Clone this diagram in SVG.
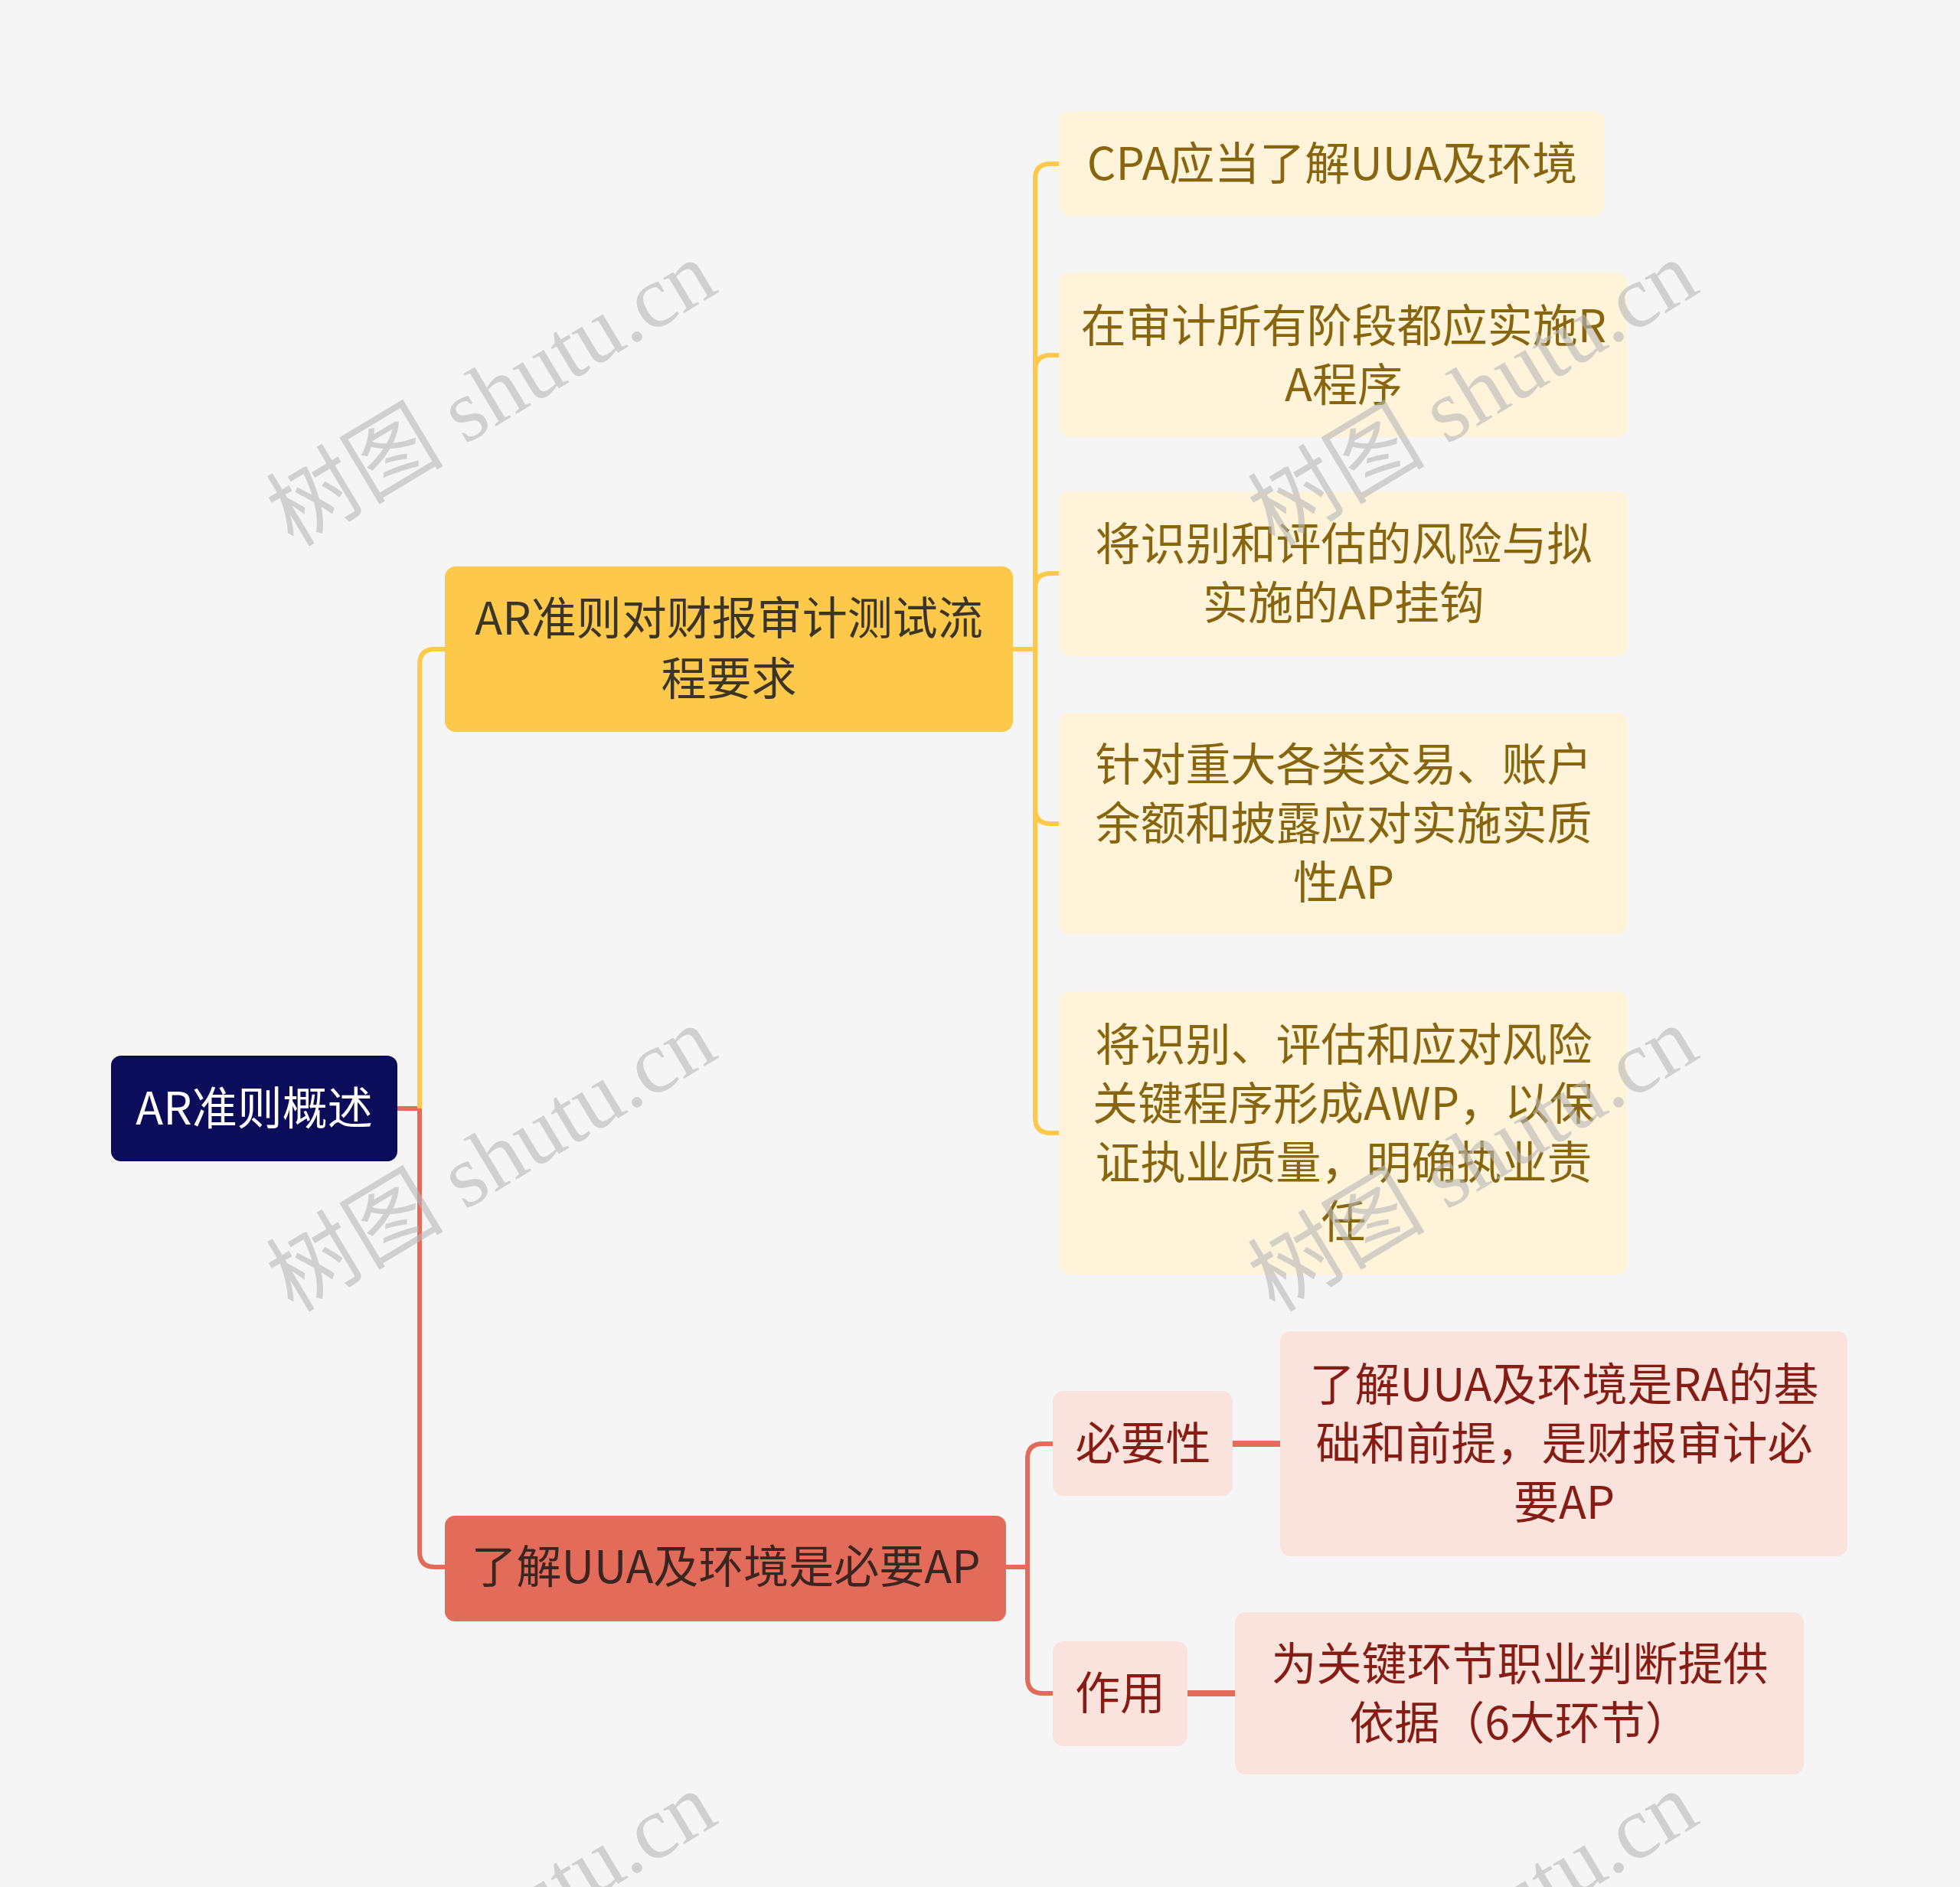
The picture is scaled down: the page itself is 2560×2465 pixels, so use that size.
<svg xmlns="http://www.w3.org/2000/svg" width="2560" height="2465" viewBox="0 0 2560 2465">
<style>
text{font-family:"Noto Sans CJK SC","Noto Sans",sans-serif;font-size:59px;text-anchor:middle}
.root rect{fill:#0b0d5b}
.root text{fill:#ffffff}
.b1 rect{fill:#fec94b}
.b1 text{fill:#3b3526}
.b2 rect{fill:#e26c59}
.b2 text{fill:#3a2521}
.ly rect{fill:#fff3da}
.ly text{fill:#88660f}
.lp rect{fill:#fbe3dd}
.lp text{fill:#861d15}
.cy{fill:none;stroke:#fec94b;stroke-width:6}
.cr{fill:none;stroke:#e26c59;stroke-width:6}
.cr2{fill:none;stroke:#e26c59;stroke-width:8}
.wm text{font-family:"Liberation Serif","Noto Sans CJK SC",serif;font-size:116px;fill:#b8b8b8;opacity:0.6}
</style>
<rect x="0" y="0" width="2560" height="2465" fill="#f5f5f5"/>
<g id="connectors">
<path class="cr" d="M519 1448 H548"/>
<path class="cy" d="M548 1448 V868 Q548 848 568 848 H581"/>
<path class="cr" d="M548 1448 V2027 Q548 2047 568 2047 H581"/>
<path class="cy" d="M1323 848 H1352"/>
<path class="cy" d="M1352 848 V234 Q1352 214 1372 214 H1384"/>
<path class="cy" d="M1352 848 V484 Q1352 464 1372 464 H1384"/>
<path class="cy" d="M1352 848 V769 Q1352 749 1372 749 H1384"/>
<path class="cy" d="M1352 848 V1056 Q1352 1076 1372 1076 H1384"/>
<path class="cy" d="M1352 848 V1460 Q1352 1480 1372 1480 H1384"/>
<path class="cr" d="M1314 2047 H1342"/>
<path class="cr" d="M1342 2047 V1906 Q1342 1886 1362 1886 H1376"/>
<path class="cr" d="M1342 2047 V2192 Q1342 2212 1362 2212 H1376"/>
<path class="cr2" d="M1610 1886 H1673"/>
<path class="cr2" d="M1551 2212 H1614"/>
</g>
<g id="root" class="root">
<rect x="145" y="1379" width="374" height="138" rx="13"/>
<text x="332" y="1469">AR准则概述</text>
</g>
<g id="branch1" class="b1">
<rect x="581" y="740" width="742" height="216" rx="14"/>
<text x="952" y="829">AR准则对财报审计测试流</text>
<text x="952" y="908">程要求</text>
</g>
<g id="leaf1" class="ly">
<rect x="1383" y="145" width="713" height="137" rx="14"/>
<text x="1740" y="235">CPA应当了解UUA及环境</text>
</g>
<g id="leaf2" class="ly">
<rect x="1383" y="356" width="743" height="215" rx="14"/>
<text x="1755" y="447">在审计所有阶段都应实施R</text>
<text x="1755" y="524">A程序</text>
</g>
<g id="leaf3" class="ly">
<rect x="1383" y="642" width="743" height="215" rx="14"/>
<text x="1755" y="732">将识别和评估的风险与拟</text>
<text x="1755" y="809">实施的AP挂钩</text>
</g>
<g id="leaf4" class="ly">
<rect x="1383" y="931" width="743" height="290" rx="14"/>
<text x="1755" y="1020">针对重大各类交易、账户</text>
<text x="1755" y="1097">余额和披露应对实施实质</text>
<text x="1755" y="1174">性AP</text>
</g>
<g id="leaf5" class="ly">
<rect x="1383" y="1295" width="743" height="370" rx="14"/>
<text x="1755" y="1386">将识别、评估和应对风险</text>
<text x="1755" y="1463">关键程序形成AWP，以保</text>
<text x="1755" y="1540">证执业质量，明确执业责</text>
<text x="1755" y="1617">任</text>
</g>
<g id="branch2" class="b2">
<rect x="581" y="1980" width="733" height="138" rx="13"/>
<text x="948" y="2068">了解UUA及环境是必要AP</text>
</g>
<g id="sub1" class="lp">
<rect x="1375" y="1817" width="235" height="137" rx="14"/>
<text x="1493" y="1907">必要性</text>
</g>
<g id="sub2" class="lp">
<rect x="1375" y="2144" width="176" height="137" rx="14"/>
<text x="1463" y="2233">作用</text>
</g>
<g id="leaf6" class="lp">
<rect x="1672" y="1739" width="741" height="294" rx="14"/>
<text x="2043" y="1830">了解UUA及环境是RA的基</text>
<text x="2043" y="1907">础和前提，是财报审计必</text>
<text x="2043" y="1984">要AP</text>
</g>
<g id="leaf7" class="lp">
<rect x="1613" y="2106" width="743" height="212" rx="14"/>
<text x="1985" y="2195">为关键环节职业判断提供</text>
<text x="1985" y="2272">依据（6大环节）</text>
</g>
<g id="watermark" class="wm">
<text transform="translate(662 548) rotate(-31)">树图 shutu.cn</text>
<text transform="translate(1944 548) rotate(-31)">树图 shutu.cn</text>
<text transform="translate(662 1548) rotate(-31)">树图 shutu.cn</text>
<text transform="translate(1944 1548) rotate(-31)">树图 shutu.cn</text>
<text transform="translate(662 2548) rotate(-31)">树图 shutu.cn</text>
<text transform="translate(1944 2548) rotate(-31)">树图 shutu.cn</text>
</g>
</svg>
